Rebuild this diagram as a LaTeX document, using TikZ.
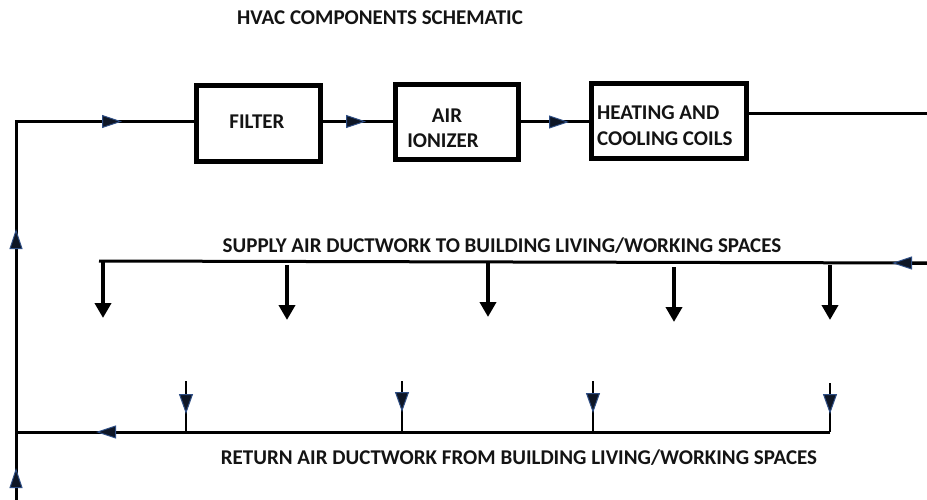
\documentclass[tikz,border=0pt]{standalone}
\usepackage{fontspec}
\setmainfont{Carlito}
\usetikzlibrary{arrows.meta}
\definecolor{tipedge}{HTML}{2F4F86}
\definecolor{tipcore}{HTML}{0E1626}
\tikzset{
  label text/.style={font=\bfseries\fontsize{21}{25}\selectfont, text=black!92, inner sep=0pt},
  compbox/.style={draw=black, line width=5pt, fill=white, inner sep=0pt},
  duct/.style={draw=black, line width=3pt},
  flow/.style={duct, -{Triangle[length=20pt,width=13pt,color=tipedge,fill=tipcore,line width=1pt]}},
  branch/.style={draw=black, line width=2.8pt},
  branchflow/.style={branch, -{Triangle[length=20pt,width=14pt,color=tipedge,fill=tipcore,line width=1pt]}},
  outlet/.style={draw=black, line width=4pt, -{Triangle[length=15pt,width=16pt,color=black,fill=black]}},
}
\begin{document}
\begin{tikzpicture}[x=1pt,y=-1pt]
\useasboundingbox (0,0) rectangle (927,500);
\fill[white] (0,0) rectangle (927,500);

% components
\node[compbox, minimum width=124pt, minimum height=76pt] (filter) at (258.5,123.5) {};
\node[compbox, minimum width=123pt, minimum height=75pt] (ionizer) at (457,122) {};
\node[compbox, minimum width=155pt, minimum height=75pt] (coils) at (669,121) {};

% texts
\node[label text] (title) at (380,18) {HVAC COMPONENTS SCHEMATIC};
\node[label text] (tfilter) at (257,122) {FILTER};
\node[label text] (tair) at (447,116) {AIR};
\node[label text] (tion) at (443,141) {IONIZER};
\node[label text, anchor=west] (theat) at (597,113) {HEATING AND};
\node[label text, anchor=west] (tcool) at (597,138.5) {COOLING COILS};
\node[label text] (tsupply) at (502,246) {SUPPLY AIR DUCTWORK TO BUILDING LIVING/WORKING SPACES};
\node[label text] (treturn) at (519,458) {RETURN AIR DUCTWORK FROM BUILDING LIVING/WORKING SPACES};

% named points
\coordinate (corner) at (16,121.5);
\coordinate (bottom) at (16,500);
\coordinate (upA) at (16,229);
\coordinate (upB) at (16,468);
\coordinate (topA) at (122,121.5);
\coordinate (fiA) at (366,121.5);
\coordinate (icA) at (569,122);
\coordinate (coilend) at (927,114);
\coordinate (supR) at (927,263);
\coordinate (supA) at (892,263);
\coordinate (supL) at (99,261);
\coordinate (retJ) at (16,432);
\coordinate (retA) at (96,432);
\coordinate (retR) at (830,432);

% main loop
\draw[duct] (bottom) -- (corner) -- (filter.west |- corner);
\draw[flow] (bottom) -- (upB);
\draw[flow] (upB) -- (upA);
\draw[flow] (corner) -- (topA);
\draw[duct] (filter.east |- fiA) -- (ionizer.west |- fiA);
\draw[flow] (filter.east |- fiA) -- (fiA);
\draw[duct] (ionizer.east |- icA) -- (coils.west |- icA);
\draw[flow] (ionizer.east |- icA) -- (icA);
\draw[duct] (coils.east |- coilend) -- (coilend);

% supply
\draw[duct] (supR) -- (supL);
\draw[flow] (supR) -- (supA);
\foreach \n/\x/\a/\b in {a/103/262/318,b/287/265/320,c/488/263/317,d/674/267/322,e/830/265/320}{
  \coordinate (s\n) at (\x,\a);
  \coordinate (t\n) at (\x,\b);
  \draw[outlet] (s\n) -- (t\n);
}

% return
\draw[duct] (retR) -- (retJ);
\draw[flow] (retR) -- (retA);
\foreach \n/\x/\t/\e in {a/186/381/414,b/402/381/412,c/593/381/413,d/830/383/414}{
  \coordinate (r\n) at (\x,\t);
  \coordinate (m\n) at (\x,\e);
  \coordinate (j\n) at (\x,432);
  \draw[branch] (r\n) -- (j\n);
  \draw[branchflow] (r\n) -- (m\n);
}
\end{tikzpicture}
\end{document}
